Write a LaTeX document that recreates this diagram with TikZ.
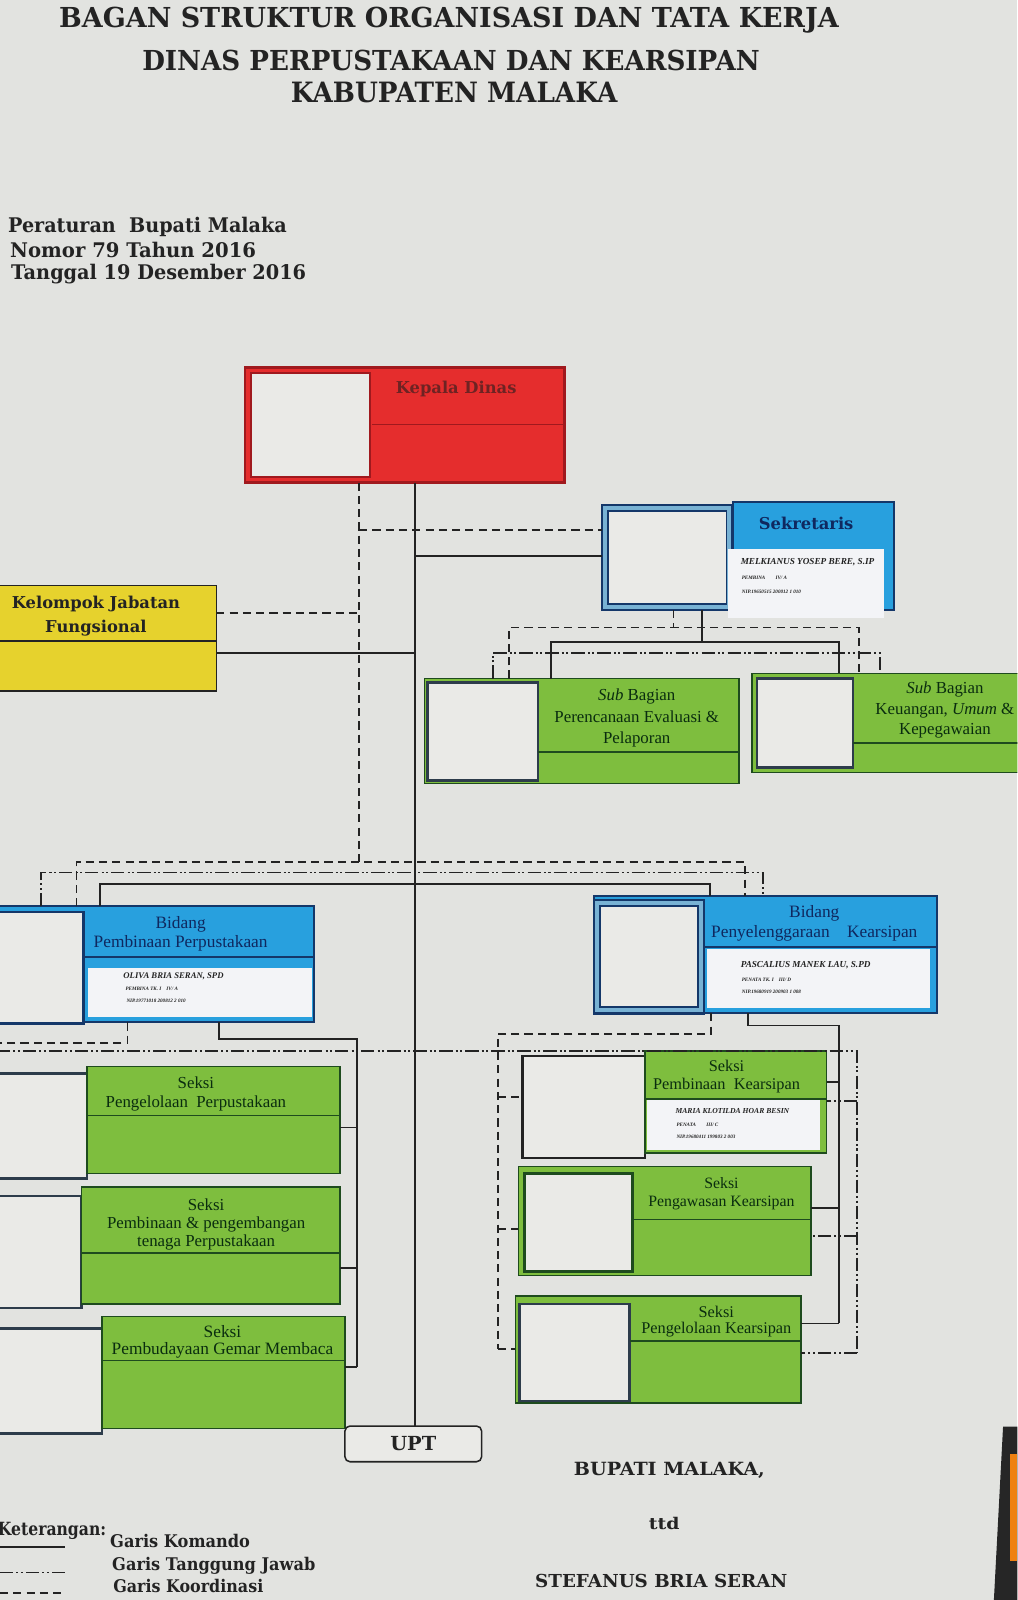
\documentclass[tikz,border=0pt]{standalone}
\usepackage{fontspec}
\setmainfont{Liberation Serif}
\newfontfamily\hv{DejaVu Serif}
\usepackage{graphicx}
\definecolor{bg}{RGB}{226,227,224}
\definecolor{photo}{RGB}{234,234,231}
\definecolor{kred}{RGB}{229,45,45}
\definecolor{kredd}{RGB}{160,25,30}
\definecolor{kblue}{RGB}{40,160,222}
\definecolor{kbluel}{RGB}{120,178,212}
\definecolor{navy}{RGB}{20,55,105}
\definecolor{kgreen}{RGB}{126,190,62}
\definecolor{kgreend}{RGB}{30,75,30}
\definecolor{kyellow}{RGB}{230,210,45}
\definecolor{infow}{RGB}{243,244,247}
\definecolor{ink}{RGB}{35,35,35}
\definecolor{slate}{RGB}{45,60,75}
\definecolor{tgreen}{RGB}{10,45,15}
\definecolor{tnavy}{RGB}{15,40,95}
\definecolor{tred}{RGB}{110,35,35}
\newcommand\mybox[6]{\node[#6, anchor=north west, minimum width={((#4)-(#2))*1pt}, minimum height={((#5)-(#3))*1pt}] (#1) at (#2,#3) {};}
\newcommand\fitt[3]{\resizebox{#1pt}{#2pt}{#3}}
\begin{document}
\begin{tikzpicture}[x=1pt,y=-1pt,
  bx/.style={inner sep=0pt, outer sep=0pt},
  cmd/.style={draw=ink, line width=1.8pt},
  koord/.style={draw=ink, line width=1.8pt, dash pattern=on 8pt off 5pt},
  tj/.style={draw=ink, line width=1.8pt, dash pattern=on 13pt off 3pt on 2pt off 2.5pt on 2pt off 3pt},
  gbox/.style={bx, fill=kgreen, draw=kgreend, line width=1.5pt},
  bbox/.style={bx, fill=kblue, draw=navy, line width=2pt},
  pbox/.style={bx, fill=photo, draw=#1, line width=2.4pt},
  pbox/.default=slate,
  div/.style={draw=#1, line width=1.4pt},
  div/.default=kgreend,
  lbl/.style={bx, align=center, text=tgreen},
  nm/.style={bx, anchor=west, text=ink, font={\bfseries\itshape\fontsize{#1}{#1}\selectfont}},
  sm/.style={bx, anchor=west, text=ink, font={\bfseries\itshape\fontsize{5}{5}\selectfont}},
  hvt/.style={bx, text=ink}
]
\useasboundingbox (0,0) rectangle (997,1568);
\fill[bg] (0,0) rectangle (997,1568);
\clip (0,0) rectangle (997,1568);

% ---------- titles
\node[hvt] (t1) at (440,20) {\fitt{764}{20}{\hv\bfseries BAGAN STRUKTUR ORGANISASI DAN TATA KERJA}};
\node[hvt] (t2) at (442,59) {\fitt{605}{20}{\hv\bfseries DINAS PERPUSTAKAAN DAN KEARSIPAN}};
\node[hvt] (t3) at (445,91) {\fitt{320}{20}{\hv\bfseries KABUPATEN MALAKA}};
\node[hvt, anchor=west] (p1) at (8,222) {\fitt{273}{15}{\hv\bfseries Peraturan\ \ Bupati Malaka}};
\node[hvt, anchor=west] (p2) at (10,245) {\fitt{241}{15}{\hv\bfseries Nomor 79 Tahun 2016}};
\node[hvt, anchor=west] (p3) at (11,269) {\fitt{289}{15}{\hv\bfseries Tanggal 19 Desember 2016}};

% ---------- Kepala Dinas
\mybox{kepala}{240}{360}{553}{473}{bx, fill=kred, draw=kredd, line width=2.5pt}
\mybox{kepalaP}{246}{366}{363}{467}{bx, fill=photo, draw=kredd, line width=2pt}
\draw[div=kredd] (365,416) -- (553,416);
\node[bx, text=tred, font={\hv\bfseries\fontsize{16}{16}\selectfont}] (tKepala) at (447,381) {Kepala Dinas};

% ---------- Sekretaris
\mybox{sekP}{590}{495}{718}{598}{bx, fill=kbluel, draw=navy, line width=2.5pt}
\mybox{sekPi}{596}{501}{712}{592}{bx, fill=photo, draw=navy, line width=1.8pt}
\mybox{sek}{718}{492}{876}{598}{bbox}
\mybox{sekW}{713}{538}{866}{606}{bx, fill=infow}
\node[bx, text=tnavy, font={\hv\bfseries\fontsize{16}{16}\selectfont}] (tSek) at (790,513) {Sekretaris};
\node[nm=9] (nSek) at (726,551) {MELKIANUS YOSEP BERE, S.IP};
\node[sm] (gSek) at (727,566) {PEMBINA\qquad IV/ A};
\node[sm] (iSek) at (727,580) {NIP.19650515 200012 1 010};

% ---------- Kelompok Jabatan Fungsional
\mybox{kjf}{-5}{574}{212}{677}{bx, fill=kyellow, draw=ink, line width=1.5pt}
\draw[div=ink] (-5,628) -- (212,628);
\node[bx, align=center, text=ink, font={\hv\bfseries\fontsize{16}{23}\selectfont}] (tKjf) at (94,604) {Kelompok Jabatan\\Fungsional};

% ---------- Sub Bagian
\mybox{pep}{416}{665}{724}{768}{gbox}
\mybox{pepP}{419}{669}{527}{765}{pbox}
\draw[div] (527,737) -- (724,737);
\node[lbl, font={\fontsize{16.5}{21}\selectfont}] (tPep) at (624,704) {\textit{Sub} Bagian\\Perencanaan Evaluasi \&\\Pelaporan};
\mybox{kuk}{737}{660}{1020}{757}{gbox}
\mybox{kukP}{742}{665}{836}{752}{pbox}
\draw[div] (836,728) -- (1020,728);
\node[lbl, font={\fontsize{16.5}{20}\selectfont}] (tKuk) at (926,696) {\textit{Sub} Bagian\\Keuangan, \textit{Umum} \&\\Kepegawaian};

% ---------- Bidang Pembinaan Perpustakaan
\mybox{ppd}{-5}{888}{308}{1002}{bbox}
\mybox{ppdP}{-5}{894}{82}{1003}{pbox=navy}
\draw[div=navy] (83,938) -- (308,938);
\mybox{ppdW}{86}{949}{306}{997}{bx, fill=infow}
\node[lbl, text=tnavy, font={\fontsize{17}{19}\selectfont}] (tPpd) at (177,915) {Bidang\\Pembinaan Perpustakaan};
\node[nm=8.5] (nPpd) at (121,957) {OLIVA BRIA SERAN, SPD};
\node[sm] (gPpd) at (123,969) {PEMBINA TK. I\quad IV/ A};
\node[sm] (iPpd) at (124,981) {NIP.19771018 200812 2 010};

% ---------- Bidang Penyelenggaraan Kearsipan
\mybox{pkd}{582}{878}{918}{993}{bbox}
\mybox{pkdP}{582}{882}{690}{993}{bx, fill=kbluel, draw=navy, line width=2.5pt}
\mybox{pkdPi}{588}{888}{684}{987}{bx, fill=photo, draw=navy, line width=1.8pt}
\draw[div=navy] (690,928) -- (918,928);
\mybox{pkdW}{693}{930}{911}{988}{bx, fill=infow}
\node[lbl, text=tnavy, font={\fontsize{17}{19}\selectfont}] (tPkd) at (798,905) {Bidang\\Penyelenggaraan\quad Kearsipan};
\node[nm=9] (nPkd) at (726,946) {PASCALIUS MANEK LAU, S.PD};
\node[sm] (gPkd) at (727,960) {PENATA TK. I\quad III/ D};
\node[sm] (iPkd) at (727,972) {NIP.19680919 200903 1 008};

% ---------- Seksi (left)
\mybox{sPPP}{-5}{1052}{85}{1155}{pbox}
\mybox{sPP}{85}{1045}{333}{1150}{gbox}
\draw[div] (85,1093) -- (333,1093);
\node[lbl, font={\fontsize{16.5}{19}\selectfont}] (tSPP) at (192,1072) {Seksi\\Pengelolaan\ \ Perpustakaan};
\mybox{sPembP}{-5}{1172}{80}{1282}{pbox}
\mybox{sPemb}{80}{1163}{333}{1278}{gbox}
\draw[div] (80,1228) -- (333,1228);
\node[lbl, font={\fontsize{16.5}{17.5}\selectfont}] (tSPemb) at (202,1200) {Seksi\\Pembinaan \& pengembangan\\tenaga Perpustakaan};
\mybox{sPGMP}{-5}{1302}{100}{1405}{pbox}
\mybox{sPGM}{100}{1290}{338}{1400}{gbox}
\draw[div] (100,1333) -- (338,1333);
\node[lbl, font={\fontsize{17}{17}\selectfont}] (tSPGM) at (218,1315) {Seksi\\Pembudayaan Gemar Membaca};

% ---------- Seksi (right)
\mybox{sPKP}{512}{1035}{632}{1135}{pbox=ink}
\mybox{sPK}{632}{1030}{810}{1130}{gbox}
\mybox{sPKW}{634}{1078}{804}{1127}{bx, fill=infow}
\draw[div] (632,1077) -- (810,1077);
\node[lbl, font={\fontsize{16}{18}\selectfont}] (tSPK) at (712,1055) {Seksi\\Pembinaan\ \ Kearsipan};
\node[nm=7.5] (nSPK) at (662,1089) {MARIA KLOTILDA HOAR BESIN};
\node[sm] (gSPK) at (663,1102) {PENATA\qquad III/ C};
\node[sm] (iSPK) at (663,1114) {NIP.19680411 199803 2 003};
\mybox{sPW}{508}{1143}{795}{1250}{gbox}
\mybox{sPWP}{514}{1150}{620}{1246}{pbox=kgreend}
\draw[div] (620,1195) -- (795,1195);
\node[lbl, font={\fontsize{15.5}{17}\selectfont}] (tSPW) at (707,1170) {Seksi\\Pengawasan Kearsipan};
\mybox{sPL}{505}{1270}{785}{1375}{gbox}
\mybox{sPLP}{509}{1278}{617}{1373}{pbox}
\draw[div] (617,1314) -- (785,1314);
\node[lbl, font={\fontsize{16}{16}\selectfont}] (tSPL) at (702,1295) {Seksi\\Pengelolaan Kearsipan};

% ---------- UPT
\node[bx, draw=ink, line width=1.5pt, rounded corners=5pt, fill=photo, minimum width=134pt, minimum height=35pt, font={\hv\bfseries\fontsize{19}{19}\selectfont}, text=ink] (upt) at (405,1415) {UPT};

% ---------- coordinates
\coordinate (xm) at (407,0);  \coordinate (xk) at (352,0);
\coordinate (ySd) at (0,519); \coordinate (ySs) at (0,545);
\coordinate (yKd) at (0,601); \coordinate (yKs) at (0,640);
\coordinate (xSd) at (660,0); \coordinate (xSs) at (688,0);
\coordinate (xDL) at (499,0); \coordinate (xDR) at (842,0);
\coordinate (xSL) at (540,0); \coordinate (xSR) at (822,0);
\coordinate (xTL) at (483,0); \coordinate (xTR) at (862,0);
\coordinate (yD1) at (0,615); \coordinate (yS1) at (0,629); \coordinate (yT1) at (0,640);
\coordinate (yBd) at (0,845); \coordinate (yBt) at (0,855); \coordinate (yBs) at (0,866);
\coordinate (xBdL) at (75,0); \coordinate (xBdR) at (730,0);
\coordinate (xBtL) at (40,0); \coordinate (xBtR) at (748,0);
\coordinate (xBsL) at (98,0); \coordinate (xBsR) at (696,0);
\coordinate (xPd) at (125,0); \coordinate (xPs) at (215,0); \coordinate (xPv) at (350,0);
\coordinate (yPs) at (0,1018); \coordinate (ePd) at (-3,1022);
\coordinate (yL1) at (0,1105); \coordinate (yL2) at (0,1243); \coordinate (yL3) at (0,1340);
\coordinate (eT) at (-3,1030); \coordinate (xTv) at (840,0);
\coordinate (yRt1) at (0,1079); \coordinate (yRt2) at (0,1211); \coordinate (yRt3) at (0,1326);
\coordinate (xKd) at (697,0); \coordinate (xKs) at (733,0);
\coordinate (xKv) at (822,0); \coordinate (xKdv) at (488,0);
\coordinate (yKd2) at (0,1013); \coordinate (yKs2) at (0,1005);
\coordinate (yRd1) at (0,1075); \coordinate (yRd2) at (0,1204); \coordinate (yRd3) at (0,1322);
\coordinate (yRs1) at (0,1060); \coordinate (yRs2) at (0,1184); \coordinate (yRs3) at (0,1297);

% ---------- connectors
\draw[cmd] (kepala.south -| xm) -- (upt.north -| xm);
\draw[koord] (kepala.south -| xk) -- (xk |- yBd);
\draw[koord] (xk |- ySd) -- (sekP.west |- ySd);
\draw[cmd] (xm |- ySs) -- (sekP.west |- ySs);
\draw[koord] (kjf.east |- yKd) -- (xk |- yKd);
\draw[cmd] (kjf.east |- yKs) -- (xm |- yKs);

\draw[koord] (sekP.south -| xSd) -- (xSd |- yD1);
\draw[koord] (pep.north -| xDL) |- (xDR |- yD1) -- (kuk.north -| xDR);
\draw[cmd] (sekP.south -| xSs) -- (xSs |- yS1);
\draw[cmd] (pep.north -| xSL) |- (xSR |- yS1) -- (kuk.north -| xSR);
\draw[tj] (pep.north -| xTL) |- (xTR |- yT1) -- (kuk.north -| xTR);

\draw[koord] (ppd.north -| xBdL) |- (xBdR |- yBd) -- (pkd.north -| xBdR);
\draw[tj] (ppd.north -| xBtL) |- (xBtR |- yBt) -- (pkd.north -| xBtR);
\draw[cmd] (ppd.north -| xBsL) |- (xBsR |- yBs) -- (pkd.north -| xBsR);

\draw[koord] (ppd.south -| xPd) |- (ePd);
\draw[cmd] (ppd.south -| xPs) |- (xPv |- yPs) -- (xPv |- yL3);
\draw[cmd] (xPv |- yL1) -- (sPP.east |- yL1);
\draw[cmd] (xPv |- yL2) -- (sPemb.east |- yL2);
\draw[cmd] (xPv |- yL3) -- (sPGM.east |- yL3);

\draw[tj] (eT) -| (xTv |- yRt3);
\draw[tj] (xTv |- yRt1) -- (sPK.east |- yRt1);
\draw[tj] (xTv |- yRt2) -- (sPW.east |- yRt2);
\draw[tj] (xTv |- yRt3) -- (sPL.east |- yRt3);

\draw[koord] (pkd.south -| xKd) |- (xKdv |- yKd2) -- (xKdv |- yRd3);
\draw[koord] (xKdv |- yRd1) -- (sPKP.west |- yRd1);
\draw[koord] (xKdv |- yRd2) -- (sPW.west |- yRd2);
\draw[koord] (xKdv |- yRd3) -- (sPL.west |- yRd3);

\draw[cmd] (pkd.south -| xKs) |- (xKv |- yKs2) -- (xKv |- yRs3);
\draw[cmd] (xKv |- yRs1) -- (sPK.east |- yRs1);
\draw[cmd] (xKv |- yRs2) -- (sPW.east |- yRs2);
\draw[cmd] (xKv |- yRs3) -- (sPL.east |- yRs3);

% ---------- signature
\node[hvt] (bup) at (656,1441) {\fitt{187}{13}{\hv\bfseries BUPATI MALAKA,}};
\node[hvt] (ttd) at (651,1493) {\fitt{30}{12}{\hv\bfseries ttd}};
\node[hvt] (stef) at (648,1549) {\fitt{247}{13}{\hv\bfseries STEFANUS BRIA SERAN}};

% ---------- legend
\node[hvt, anchor=west] (ket) at (-2,1500) {\fitt{106}{13}{\hv\bfseries Keterangan:}};
\node[hvt, anchor=west] (lg1) at (108,1510) {\fitt{137}{13}{\hv\bfseries Garis Komando}};
\node[hvt, anchor=west] (lg2) at (110,1534) {\fitt{199}{13}{\hv\bfseries Garis Tanggung Jawab}};
\node[hvt, anchor=west] (lg3) at (111,1554) {\fitt{147}{13}{\hv\bfseries Garis Koordinasi}};
\coordinate (l1a) at (0,1516); \coordinate (l1b) at (64,1516);
\coordinate (l2a) at (0,1541); \coordinate (l2b) at (64,1541);
\coordinate (l3a) at (0,1561); \coordinate (l3b) at (64,1561);
\draw[cmd, line width=1.5pt] (l1a) -- (l1b);
\draw[tj, line width=1.5pt] (l2a) -- (l2b);
\draw[koord, line width=1.5pt] (l3a) -- (l3b);

% ---------- frame edge (photo)
\fill[black!85] (974,1568) -- (983,1398) -- (997,1398) -- (997,1568) -- cycle;
\fill[orange!75!brown] (990,1425) rectangle (997,1530);
\end{tikzpicture}
\end{document}
